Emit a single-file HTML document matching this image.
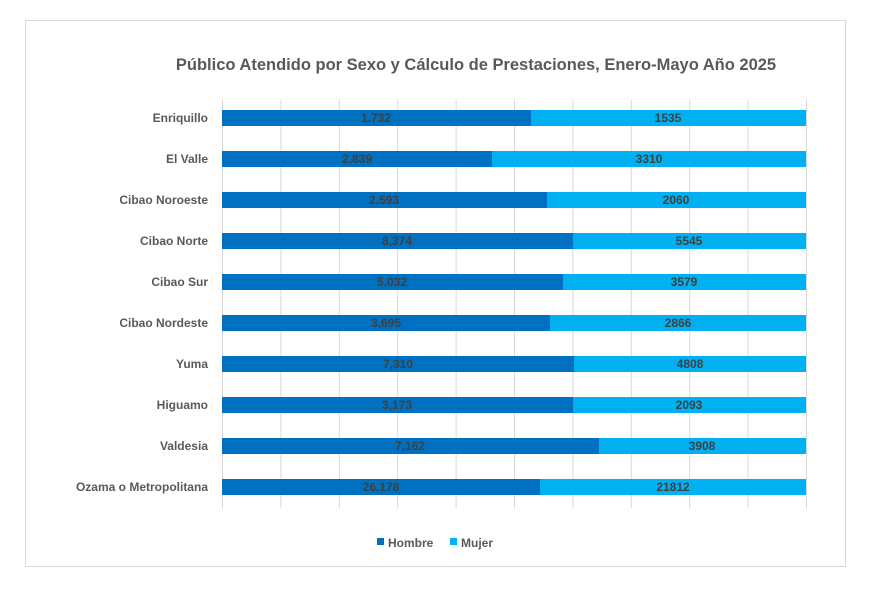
<!DOCTYPE html>
<html><head><meta charset="utf-8"><style>
body{margin:0;background:#fff;}
svg{display:block;font-family:"Liberation Sans",sans-serif;}
</style></head><body>
<svg width="869" height="591" viewBox="0 0 869 591">
<rect x="0" y="0" width="869" height="591" fill="#fff"/>
<rect x="25.5" y="20.5" width="820" height="546" fill="#fff" stroke="#d9d9d9"/>
<text x="476" y="70" text-anchor="middle" font-size="16.5" font-weight="bold" fill="#595959">Público Atendido por Sexo y Cálculo de Prestaciones, Enero-Mayo Año 2025</text>
<g stroke="#d9d9d9" stroke-width="1">
<line x1="222.5" y1="100" x2="222.5" y2="508"/>
<line x1="280.9" y1="100" x2="280.9" y2="508"/>
<line x1="339.3" y1="100" x2="339.3" y2="508"/>
<line x1="397.7" y1="100" x2="397.7" y2="508"/>
<line x1="456.1" y1="100" x2="456.1" y2="508"/>
<line x1="514.5" y1="100" x2="514.5" y2="508"/>
<line x1="572.9" y1="100" x2="572.9" y2="508"/>
<line x1="631.3" y1="100" x2="631.3" y2="508"/>
<line x1="689.7" y1="100" x2="689.7" y2="508"/>
<line x1="748.1" y1="100" x2="748.1" y2="508"/>
<line x1="806.5" y1="100" x2="806.5" y2="508"/>
</g>
<g font-size="12" font-weight="bold">
<g fill="#0070C0">
<rect x="222" y="110" width="309" height="16"/>
<rect x="222" y="151" width="270" height="16"/>
<rect x="222" y="192" width="325" height="16"/>
<rect x="222" y="233" width="351" height="16"/>
<rect x="222" y="274" width="341" height="16"/>
<rect x="222" y="315" width="328" height="16"/>
<rect x="222" y="356" width="352" height="16"/>
<rect x="222" y="397" width="351" height="16"/>
<rect x="222" y="438" width="377" height="16"/>
<rect x="222" y="479" width="318" height="16"/>
</g>
<g fill="#00B0F0">
<rect x="531" y="110" width="275" height="16"/>
<rect x="492" y="151" width="314" height="16"/>
<rect x="547" y="192" width="259" height="16"/>
<rect x="573" y="233" width="233" height="16"/>
<rect x="563" y="274" width="243" height="16"/>
<rect x="550" y="315" width="256" height="16"/>
<rect x="574" y="356" width="232" height="16"/>
<rect x="573" y="397" width="233" height="16"/>
<rect x="599" y="438" width="207" height="16"/>
<rect x="540" y="479" width="266" height="16"/>
</g>
<g fill="#404040" text-anchor="middle">
<text x="376" y="122">1,732</text><text x="668" y="122">1535</text>
<text x="357" y="163">2,839</text><text x="649" y="163">3310</text>
<text x="384" y="204">2,593</text><text x="676" y="204">2060</text>
<text x="397" y="245">8,374</text><text x="689" y="245">5545</text>
<text x="392" y="286">5,032</text><text x="684" y="286">3579</text>
<text x="386" y="327">3,695</text><text x="678" y="327">2866</text>
<text x="398" y="368">7,310</text><text x="690" y="368">4808</text>
<text x="397" y="409">3,173</text><text x="689" y="409">2093</text>
<text x="410" y="450">7,162</text><text x="702" y="450">3908</text>
<text x="381" y="491">26,178</text><text x="673" y="491">21812</text>
</g>
<g fill="#595959" text-anchor="end">
<text x="208" y="122">Enriquillo</text>
<text x="208" y="163">El Valle</text>
<text x="208" y="204">Cibao Noroeste</text>
<text x="208" y="245">Cibao Norte</text>
<text x="208" y="286">Cibao Sur</text>
<text x="208" y="327">Cibao Nordeste</text>
<text x="208" y="368">Yuma</text>
<text x="208" y="409">Higuamo</text>
<text x="208" y="450">Valdesia</text>
<text x="208" y="491">Ozama o Metropolitana</text>
</g>
<rect x="377" y="538" width="7" height="7" fill="#0070C0"/>
<text x="388" y="547" fill="#595959">Hombre</text>
<rect x="450" y="538" width="7" height="7" fill="#00B0F0"/>
<text x="461" y="547" fill="#595959">Mujer</text>
</g>
</svg>
</body></html>
